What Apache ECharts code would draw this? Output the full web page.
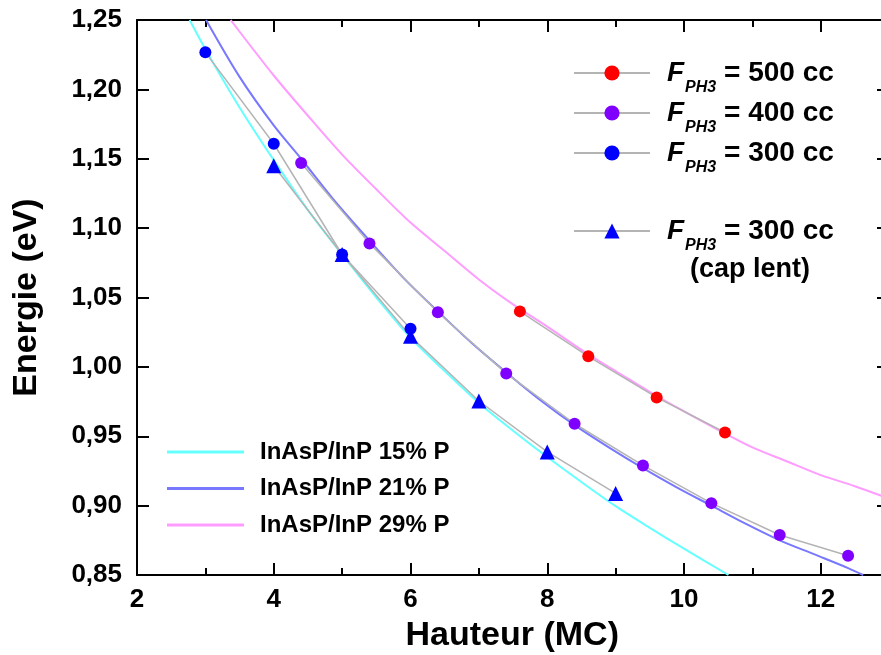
<!DOCTYPE html>
<html><head><meta charset="utf-8">
<script src="https://cdn.jsdelivr.net/npm/echarts@6/dist/echarts.min.js"></script>
<style>html,body{margin:0;padding:0;background:#fff}#c{width:881px;height:655px}</style>
</head><body><div id="c"></div>
<script>
// Measured data (Hauteur in MC, Energie in eV)
const x500 = [7.6, 8.6, 9.6, 10.6];
const y500 = [1.040, 1.0076, 0.978, 0.9527];
const x400 = [4.4, 5.4, 6.4, 7.4, 8.4, 9.4, 10.4, 11.4, 12.4];
const y400 = [1.147, 1.089, 1.0394, 0.9953, 0.959, 0.929, 0.9018, 0.8788, 0.8639];
const x300 = [3, 4, 5, 6];
const y300 = [1.2267, 1.1608, 1.081, 1.0275];
const x300cap = [4, 5, 6, 7, 8, 9];
const y300cap = [1.145, 1.081, 1.022, 0.9754, 0.9387, 0.9088];

// Calculated curves
const x15 = [2.77, 3, 3.5, 4, 4.5, 5, 5.5, 6, 6.5, 7, 7.5, 8, 8.5, 9, 9.5, 10, 10.65];
const y15 = [1.25, 1.229, 1.187, 1.149, 1.113, 1.081, 1.050, 1.021, 0.997, 0.974, 0.954, 0.935, 0.917, 0.8996, 0.884, 0.869, 0.85];
const x21 = [3.01, 3.5, 4, 4.4, 4.9, 5.4, 5.9, 6.4, 6.9, 7.4, 7.9, 8.4, 8.9, 9.4, 9.9, 10.4, 10.9, 11.4, 11.9, 12.4, 12.62];
const y21 = [1.25, 1.209, 1.174, 1.150, 1.119, 1.091, 1.064, 1.040, 1.017, 0.996, 0.976, 0.958, 0.942, 0.927, 0.913, 0.900, 0.887, 0.875, 0.865, 0.855, 0.85];
const x29 = [3.37, 4, 4.5, 5, 5.5, 6, 6.5, 7, 7.5, 8, 8.6, 9, 9.6, 10, 10.6, 11, 11.5, 12, 12.5, 13];
const y29 = [1.25, 1.210, 1.181, 1.153, 1.128, 1.104, 1.0835, 1.063, 1.045, 1.029, 1.009, 0.997, 0.979, 0.968, 0.952, 0.942, 0.932, 0.922, 0.914, 0.905];

const yTicks = [0.85, 0.90, 0.95, 1.00, 1.05, 1.10, 1.15, 1.20, 1.25];
const xTicks = [2, 4, 6, 8, 10, 12];

const legendNames = {
  F500: '500 cc', F400: '400 cc', F300: '300 cc', F300cap: '300 cc',
  c15: 'InAsP/InP 15% P', c21: 'InAsP/InP 21% P', c29: 'InAsP/InP 29% P'
};

const FONT = "'Liberation Sans', Arial, sans-serif";
const pairs = (xs, ys) => xs.map((x, i) => [x, ys[i]]);

const axisLineStyle = { color: '#000', width: 2 };
const richF = {
  f: { fontSize: 28, fontStyle: 'italic', fontWeight: 'bold', color: '#000', fontFamily: FONT, lineHeight: 30, padding: [0, 0, 0, 12] },
  s: { fontSize: 16, fontStyle: 'italic', fontWeight: 'bold', color: '#000', fontFamily: FONT, lineHeight: 16, padding: [30, 0, 0, 1] },
  t: { fontSize: 28, fontWeight: 'bold', color: '#000', fontFamily: FONT, lineHeight: 30 }
};
function fLegend(name, top) {
  return {
    data: [name], orient: 'vertical', left: 573, top: top, padding: 0,
    itemWidth: 76, itemHeight: 19, selectedMode: false,
    formatter: n => '{f|F}{s|PH3}{t| = ' + legendNames[n] + '}',
    textStyle: { rich: richF, fontFamily: FONT }
  };
}

const chart = echarts.init(document.getElementById('c'), null, { renderer: 'canvas' });
chart.setOption({
  animation: false,
  backgroundColor: '#fff',
  grid: { left: 137, top: 20, right: -76.5, bottom: 80, outerBoundsMode: 'none', containLabel: false },
  xAxis: [
    {
      type: 'value', min: 2, max: 14, interval: 2, position: 'bottom',
      name: 'Hauteur (MC)', nameLocation: 'middle', nameGap: 44,
      nameTextStyle: { fontSize: 34, fontWeight: 'bold', color: '#000', fontFamily: FONT, padding: [0, 70, 0, 0] },
      axisLine: { lineStyle: axisLineStyle },
      axisTick: { inside: true, length: 12, lineStyle: { width: 2, color: '#000' } },
      minorTick: { show: true, splitNumber: 2, length: 7, lineStyle: { width: 2, color: '#000' } },
      axisLabel: { fontSize: 26, fontWeight: 'bold', color: '#000', fontFamily: FONT, margin: 12, showMaxLabel: false,
        formatter: v => xTicks.includes(Math.round(v)) ? String(Math.round(v)) : '' },
      splitLine: { show: false }
    },
    {
      type: 'value', min: 2, max: 14, interval: 2, position: 'top',
      axisLine: { lineStyle: axisLineStyle },
      axisTick: { inside: true, length: 12, lineStyle: { width: 2, color: '#000' } },
      minorTick: { show: true, splitNumber: 2, length: 7, lineStyle: { width: 2, color: '#000' } },
      axisLabel: { show: false }, splitLine: { show: false }
    }
  ],
  yAxis: [
    {
      type: 'value', min: 0.85, max: 1.25, interval: 0.05, position: 'left',
      name: 'Energie (eV)', nameLocation: 'middle', nameRotate: 90, nameGap: 93,
      nameTextStyle: { fontSize: 34, fontWeight: 'bold', color: '#000', fontFamily: FONT },
      axisLine: { lineStyle: axisLineStyle },
      axisTick: { inside: true, length: 12, lineStyle: { width: 2, color: '#000' } },
      axisLabel: { fontSize: 26, fontWeight: 'bold', color: '#000', fontFamily: FONT, margin: 15,
        formatter: v => {
          const t = yTicks.find(k => Math.abs(k - v) < 1e-6);
          return t === undefined ? '' : t.toFixed(2).replace('.', ',');
        } },
      splitLine: { show: false }
    },
    {
      type: 'value', min: 0.85, max: 1.25, interval: 0.05, position: 'right', offset: -68.5,
      axisLine: { show: true, lineStyle: axisLineStyle },
      axisTick: { inside: true, length: 12, lineStyle: { width: 2, color: '#000' } },
      axisLabel: { show: false }, splitLine: { show: false }
    }
  ],
  legend: [
    fLegend('F500', 50),
    fLegend('F400', 90),
    fLegend('F300', 130),
    fLegend('F300cap', 208),
    {
      data: ['c15', 'c21', 'c29'], orient: 'vertical', left: 167, top: 440, padding: 0,
      itemWidth: 77, itemHeight: 3, itemGap: 12.5, icon: 'rect', selectedMode: false,
      formatter: n => '{a|' + legendNames[n] + '}',
      textStyle: { rich: { a: { fontSize: 24, fontWeight: 'bold', color: '#000', fontFamily: FONT, lineHeight: 24, padding: [0, 0, 0, 11] } } }
    }
  ],
  graphic: [
    { type: 'text', x: 750, y: 270, style: { text: '(cap lent)', font: "bold 27px 'Liberation Sans', Arial, sans-serif", fill: '#000', align: 'center', verticalAlign: 'middle' } }
  ],
  series: [
    { name: 'c15', type: 'line', data: pairs(x15, y15), symbol: 'none', smooth: 0.3, color: '#66ffff',
      lineStyle: { color: '#66ffff', width: 2 }, itemStyle: { color: '#66ffff' }, z: 2, silent: true },
    { name: 'c21', type: 'line', data: pairs(x21, y21), symbol: 'none', smooth: 0.3, color: '#7878ff',
      lineStyle: { color: '#7878ff', width: 2 }, itemStyle: { color: '#7878ff' }, z: 2, silent: true },
    { name: 'c29', type: 'line', data: pairs(x29, y29), symbol: 'none', smooth: 0.3, color: '#ff9cff',
      lineStyle: { color: '#ff9cff', width: 2 }, itemStyle: { color: '#ff9cff' }, z: 2, silent: true },
    { name: 'F500', type: 'line', data: pairs(x500, y500), symbol: 'circle', symbolSize: 12,
      itemStyle: { color: '#ff0000' }, lineStyle: { color: '#b4b4b4', width: 1.5 }, z: 3 },
    { name: 'F400', type: 'line', data: pairs(x400, y400), symbol: 'circle', symbolSize: 12,
      itemStyle: { color: '#8000ff' }, lineStyle: { color: '#b4b4b4', width: 1.5 }, z: 3 },
    { name: 'F300', type: 'line', data: pairs(x300, y300), symbol: 'circle', symbolSize: 12,
      itemStyle: { color: '#0000ff' }, lineStyle: { color: '#b4b4b4', width: 1.5 }, z: 3 },
    { name: 'F300cap', type: 'line', data: pairs(x300cap, y300cap), symbol: 'triangle', symbolSize: 15,
      itemStyle: { color: '#0000ff' }, lineStyle: { color: '#b4b4b4', width: 1.5 }, z: 3 }
  ]
});
</script>
</body></html>
